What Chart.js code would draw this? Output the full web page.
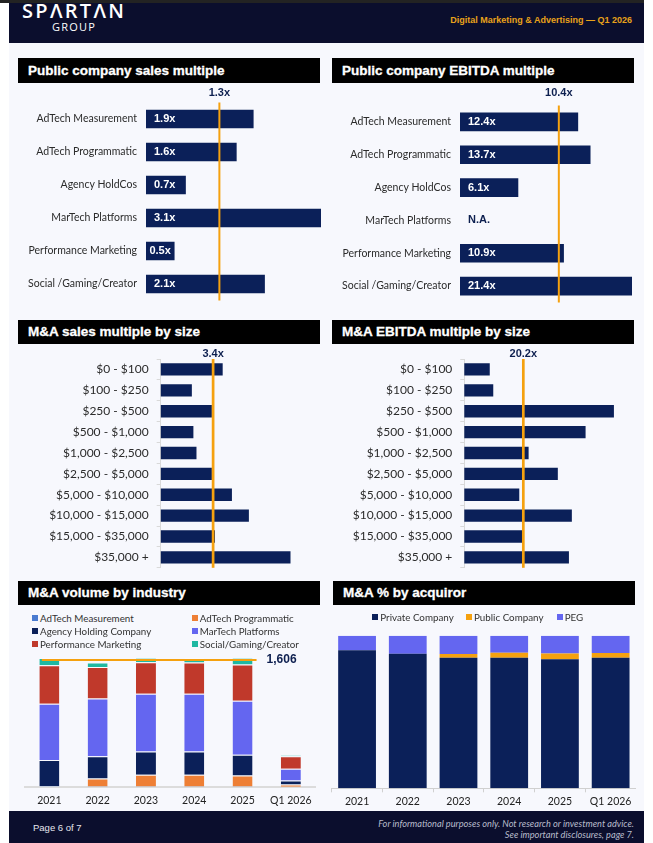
<!DOCTYPE html>
<html>
<head>
<meta charset="utf-8">
<script src="https://cdn.jsdelivr.net/npm/chart.js@4.4.1/dist/chart.umd.min.js"></script>
<style>
  html, body { margin: 0; padding: 0; background: #fff; }
  body { width: 653px; height: 843px; position: relative; overflow: hidden; font-family: 'Lato', sans-serif; }
  .abs { position: absolute; }
  #topstrip { left: 0; top: 0; width: 644px; height: 3px; background: #232323; }
  #page { left: 9px; top: 43px; width: 635px; height: 768px; background: #f7f8fd; }
  #header { left: 9px; top: 3px; width: 635px; height: 40px; background: #0b0e2d; }
  #logo { left: 22px; top: 0px; color: #fff; font-family: 'Open Sans', sans-serif; font-weight: 600; font-size: 20px; letter-spacing: 2.3px; line-height: 22px; }
  #logo2 { left: 52px; top: 20px; color: #fff; font-family: 'Open Sans', sans-serif; font-weight: 500; font-size: 11px; letter-spacing: 1.2px; line-height: 14px; }
  #subtitle { right: 21px; top: 14px; color: #e9a21a; font-family: 'Liberation Sans', sans-serif; font-weight: bold; font-size: 9px; line-height: 12px; }
  .title { background: #000; color: #fff; font-family: 'Liberation Sans', sans-serif; font-weight: bold; font-size: 13.5px; -webkit-text-stroke: 0.3px #fff; box-sizing: border-box; padding-left: 10px; }
  .box { position: absolute; }
  #footer { left: 9px; top: 811px; width: 635px; height: 32px; background: #0b0e2d; }
  #pageno { left: 33px; top: 822px; color: #e6e6ee; font-family: 'Liberation Sans', sans-serif; font-size: 9.5px; line-height: 12px; }
  #disc { right: 19px; top: 818px; color: #b9bdcc; font-family: 'Lato', sans-serif; font-style: italic; font-size: 9.2px; line-height: 11px; text-align: right; }
  .leg { position: absolute; display: flex; align-items: center; font-size: 9.8px; color: #333; white-space: nowrap; line-height: 12px; }
  .leg i { display: inline-block; width: 6px; height: 6px; margin-right: 2px; }
</style>
</head>
<body>
<div id="topstrip" class="abs"></div>
<div id="page" class="abs"></div>
<div id="header" class="abs"></div>
<div id="logo" class="abs">SPΛRTΛN</div>
<div id="logo2" class="abs">GROUP</div>
<div id="subtitle" class="abs">Digital Marketing &amp; Advertising — Q1 2026</div>

<div class="abs title" style="left:18px;top:58px;width:302px;height:25px;line-height:25px;">Public company sales multiple</div>
<div class="abs title" style="left:332px;top:58px;width:302px;height:25px;line-height:25px;">Public company EBITDA multiple</div>
<div class="abs title" style="left:18px;top:320px;width:302px;height:24px;line-height:24px;">M&amp;A sales multiple by size</div>
<div class="abs title" style="left:332px;top:320px;width:302px;height:24px;line-height:24px;">M&amp;A EBITDA multiple by size</div>
<div class="abs title" style="left:18px;top:581px;width:302px;height:24px;line-height:24px;">M&amp;A volume by industry</div>
<div class="abs title" style="left:333px;top:581px;width:302px;height:24px;line-height:24px;">M&amp;A % by acquiror</div>

<div class="box" style="left:18px;top:85px;width:305px;height:220px;"><canvas id="c-pub-sales"></canvas></div>
<div class="box" style="left:333px;top:85px;width:302px;height:220px;"><canvas id="c-pub-ebitda"></canvas></div>
<div class="box" style="left:18px;top:345px;width:305px;height:225px;"><canvas id="c-ma-sales"></canvas></div>
<div class="box" style="left:333px;top:345px;width:302px;height:225px;"><canvas id="c-ma-ebitda"></canvas></div>
<div class="box" style="left:18px;top:650px;width:305px;height:162px;"><canvas id="c-volume"></canvas></div>
<div class="box" style="left:331px;top:630px;width:305px;height:182px;"><canvas id="c-acquiror"></canvas></div>
<div id="leg-volume"></div>
<div id="leg-acquiror"></div>

<div id="footer" class="abs"></div>
<div id="pageno" class="abs">Page 6 of 7</div>
<div id="disc" class="abs">For informational purposes only. Not research or investment advice.<br>See important disclosures, page 7.</div>

<script>
const NAVY = '#0b2059';
const GOLD = '#f5a10f';
const LABEL_NAVY = '#0d1f4f';

// public comps
const PUB_SEGMENTS = ['AdTech Measurement', 'AdTech Programmatic', 'Agency HoldCos', 'MarTech Platforms', 'Performance Marketing', 'Social /Gaming/Creator'];
const PUB_SALES = [1.9, 1.6, 0.7, 3.1, 0.5, 2.1];
const PUB_SALES_AVG = 1.3;
const PUB_EBITDA = [12.4, 13.7, 6.1, null, 10.9, 21.4];
const PUB_EBITDA_AVG = 10.4;

// M&A by deal size
const SIZE_BUCKETS = ['$0 - $100', '$100 - $250', '$250 - $500', '$500 - $1,000', '$1,000 - $2,500', '$2,500 - $5,000', '$5,000 - $10,000', '$10,000 - $15,000', '$15,000 - $35,000', '$35,000 +'];
const MA_SALES = [4.0, 2.0, 3.3, 2.1, 2.3, 3.3, 4.6, 5.7, 3.5, 8.4];
const MA_SALES_AVG = 3.4;
const MA_EBITDA = [8.6, 9.8, 51.1, 41.4, 21.9, 31.9, 18.7, 36.7, 19.9, 35.7];
const MA_EBITDA_AVG = 20.2;

// volume
const PERIODS = ['2021', '2022', '2023', '2024', '2025', 'Q1 2026'];
const VOL_NAMES = ['AdTech Measurement', 'AdTech Programmatic', 'Agency Holding Company', 'MarTech Platforms', 'Performance Marketing', 'Social/Gaming/Creator'];
const VOL_COLORS = ['#4a7bd0', '#ee7f35', '#0b2059', '#6466f0', '#c0392b', '#1fb8a2'];
const VOL_MEASUREMENT  = [8, 6, 6, 6, 6, 2];
const VOL_PROGRAMMATIC = [4, 100, 148, 148, 139, 30];
const VOL_AGENCY       = [330, 282, 295, 295, 262, 50];
const VOL_MARTECH      = [712, 730, 730, 730, 683, 148];
const VOL_PERFORMANCE  = [485, 401, 400, 397, 459, 160];
const VOL_SOCIAL       = [94, 55, 56, 56, 85, 13];
const VOL_REF = 1606;

// acquiror mix (%)
const ACQ_NAMES = ['Private Company', 'Public Company', 'PEG'];
const ACQ_COLORS = ['#0b2059', '#f5a10f', '#6466f0'];
const ACQ_PRIVATE = [90.4, 88.2, 85.6, 85.6, 84.5, 85.5];
const ACQ_PUBLIC  = [0, 0, 2.4, 3.3, 3.9, 3.1];
const ACQ_PEG     = [9.6, 11.8, 12.0, 11.1, 11.6, 11.4];

Chart.defaults.font.family = "'Lato', sans-serif";
Chart.defaults.color = '#333';
Chart.defaults.animation = false;
Chart.defaults.plugins.legend.display = false;
Chart.defaults.plugins.tooltip.enabled = false;

const BOLD = "bold 11px 'Liberation Sans', sans-serif";

const refLine = {
  id: 'refLine',
  afterDatasetsDraw(chart, args, o) {
    if (o.value == null) return;
    const { ctx, chartArea: a, scales } = chart;
    ctx.save();
    ctx.strokeStyle = GOLD;
    ctx.lineWidth = o.width || 2;
    ctx.font = o.font || BOLD;
    ctx.fillStyle = LABEL_NAVY;
    if (o.horizontal) {
      const y = scales.y.getPixelForValue(o.value);
      const x0 = scales.x.getPixelForValue(0) - 7.5;
      const x1 = scales.x.getPixelForValue(4) + 14;
      ctx.beginPath(); ctx.moveTo(x0, y); ctx.lineTo(x1, y); ctx.stroke();
      ctx.textAlign = 'left'; ctx.textBaseline = 'middle';
      ctx.fillText(o.label, x1 + 10, y);
    } else {
      const x = scales.x.getPixelForValue(o.value);
      ctx.beginPath(); ctx.moveTo(x, a.top); ctx.lineTo(x, a.bottom); ctx.stroke();
      ctx.textAlign = 'center'; ctx.textBaseline = 'middle';
      ctx.fillText(o.label, x, a.top - o.gap);
    }
    ctx.restore();
  }
};

const barLabels = {
  id: 'barLabels',
  afterDatasetsDraw(chart, args, o) {
    if (!o.show) return;
    const { ctx, chartArea: a } = chart;
    const vals = chart.data.datasets[0].data;
    ctx.save();
    ctx.font = BOLD;
    ctx.textBaseline = 'middle';
    ctx.textAlign = 'left';
    chart.getDatasetMeta(0).data.forEach((bar, i) => {
      const v = vals[i];
      if (v == null) {
        ctx.fillStyle = LABEL_NAVY;
        ctx.fillText('N.A.', a.left + 8, bar.y);
        return;
      }
      const txt = v.toFixed(1) + 'x';
      const w = ctx.measureText(txt).width;
      const barW = Math.min(bar.x, a.right) - a.left;
      ctx.fillStyle = '#fff';
      ctx.fillText(txt, barW < w + 14 ? a.left + (barW - w) / 2 : a.left + 8, bar.y);
    });
    ctx.restore();
  }
};

Chart.register(refLine, barLabels);

// strip the label overhang padding Chart.js reserves around an axis
const noOverhang = s => { s.paddingTop = 0; s.paddingBottom = 0; s.paddingLeft = 0; s.paddingRight = 0; };

function hbar(id, labels, values, avg, cfg) {
  new Chart(document.getElementById(id), {
    type: 'bar',
    data: {
      labels,
      datasets: [{ data: values, backgroundColor: NAVY, barThickness: cfg.thickness }]
    },
    options: {
      indexAxis: 'y',
      responsive: true,
      maintainAspectRatio: false,
      layout: { autoPadding: false, padding: cfg.padding },
      plugins: {
        refLine: { value: avg, label: avg.toFixed(1) + 'x', gap: cfg.gap, width: cfg.lineWidth },
        barLabels: { show: cfg.inside }
      },
      scales: {
        x: { display: false, min: 0, max: cfg.max },
        y: {
          afterFit: s => { s.width = cfg.axisWidth; noOverhang(s); },
          border: { display: cfg.axisLine, color: '#d9d9d9' },
          grid: { display: cfg.axisLine, drawTicks: cfg.axisLine, drawOnChartArea: false, offset: true, tickLength: 4, color: '#d9d9d9' },
          ticks: { padding: cfg.tickPad, color: '#2b2b2b', font: { size: cfg.fontSize } }
        }
      }
    }
  });
}

hbar('c-pub-sales', PUB_SEGMENTS, PUB_SALES, PUB_SALES_AVG, {
  thickness: 18, max: 3.1, axisWidth: 128, tickPad: 9, fontSize: 10.5, inside: true, axisLine: false,
  padding: { top: 17.5, bottom: 4.5, right: 2 }, gap: 9.5, lineWidth: 2
});
hbar('c-pub-ebitda', PUB_SEGMENTS, PUB_EBITDA, PUB_EBITDA_AVG, {
  thickness: 18, max: 18.1, axisWidth: 127, tickPad: 9, fontSize: 10.5, inside: true, axisLine: false,
  padding: { top: 20.5, bottom: 2.5, right: 3 }, gap: 13, lineWidth: 2
});
hbar('c-ma-sales', SIZE_BUCKETS, MA_SALES, MA_SALES_AVG, {
  thickness: 11.7, max: 10.4, axisWidth: 142.7, tickPad: 8, fontSize: 12, inside: false, axisLine: true,
  padding: { top: 14, bottom: 2.2, right: 2 }, gap: 5, lineWidth: 2.7
});
hbar('c-ma-ebitda', SIZE_BUCKETS, MA_EBITDA, MA_EBITDA_AVG, {
  thickness: 11.7, max: 57.4, axisWidth: 131.3, tickPad: 8, fontSize: 12, inside: false, axisLine: true,
  padding: { top: 14, bottom: 2.2, right: 3 }, gap: 5, lineWidth: 2.7
});

// volume by industry
const volSeries = [VOL_MEASUREMENT, VOL_PROGRAMMATIC, VOL_AGENCY, VOL_MARTECH, VOL_PERFORMANCE, VOL_SOCIAL];
new Chart(document.getElementById('c-volume'), {
  type: 'bar',
  data: {
    labels: PERIODS,
    datasets: volSeries.map((d, i) => ({
      label: VOL_NAMES[i], data: d, backgroundColor: VOL_COLORS[i],
      borderColor: 'rgba(255,255,255,0.35)', borderWidth: { top: 1 },
      barPercentage: 0.414, categoryPercentage: 1
    }))
  },
  options: {
    responsive: true,
    maintainAspectRatio: false,
    layout: { autoPadding: false, padding: { top: 2.6, left: 7.2, right: 8 } },
    plugins: { refLine: { value: VOL_REF, label: VOL_REF.toLocaleString('en-US'), horizontal: true, width: 2, font: "bold 12px 'Liberation Sans', sans-serif" } },
    scales: {
      x: {
        stacked: true,
        afterFit: s => { s.height = 25; noOverhang(s); },
        grid: { display: false, drawTicks: false },
        border: { color: '#dcdcdc', width: 2 },
        ticks: { padding: 7, color: '#222', font: { size: 10.5 } }
      },
      y: { stacked: true, display: false, min: 0, max: 1700 }
    }
  }
});

// acquiror mix
const acqSeries = [ACQ_PRIVATE, ACQ_PUBLIC, ACQ_PEG];
new Chart(document.getElementById('c-acquiror'), {
  type: 'bar',
  data: {
    labels: PERIODS,
    datasets: acqSeries.map((d, i) => ({
      label: ACQ_NAMES[i], data: d, backgroundColor: ACQ_COLORS[i],
      barPercentage: 0.745, categoryPercentage: 1
    }))
  },
  options: {
    responsive: true,
    maintainAspectRatio: false,
    layout: { autoPadding: false, padding: { top: 5.7, left: 0.7, right: 0 } },
    scales: {
      x: {
        stacked: true,
        afterFit: s => { s.height = 23.7; noOverhang(s); },
        grid: { display: true, drawOnChartArea: false, offset: true, tickLength: 4, color: '#d0d0d0' },
        border: { color: '#d0d0d0' },
        ticks: { padding: 3, color: '#222', font: { size: 10.5 } }
      },
      y: { stacked: true, display: false, min: 0, max: 100 }
    }
  }
});

// html legends
function legend(el, names, colors, positions) {
  names.forEach((n, i) => {
    const d = document.createElement('div');
    d.className = 'leg';
    d.style.left = positions[i][0] + 'px';
    d.style.top = (positions[i][1] - 6) + 'px';
    d.innerHTML = `<i style="background:${colors[i]}"></i>${n}`;
    el.appendChild(d);
  });
}
legend(document.getElementById('leg-volume'), VOL_NAMES, VOL_COLORS,
  [[32, 617.7], [191.7, 617.7], [32, 631], [191.7, 631], [32, 644.3], [191.7, 644.3]]);
legend(document.getElementById('leg-acquiror'), ACQ_NAMES, ACQ_COLORS,
  [[372.3, 616.7], [466, 616.7], [556.7, 616.7]]);
</script>
</body>
</html>
